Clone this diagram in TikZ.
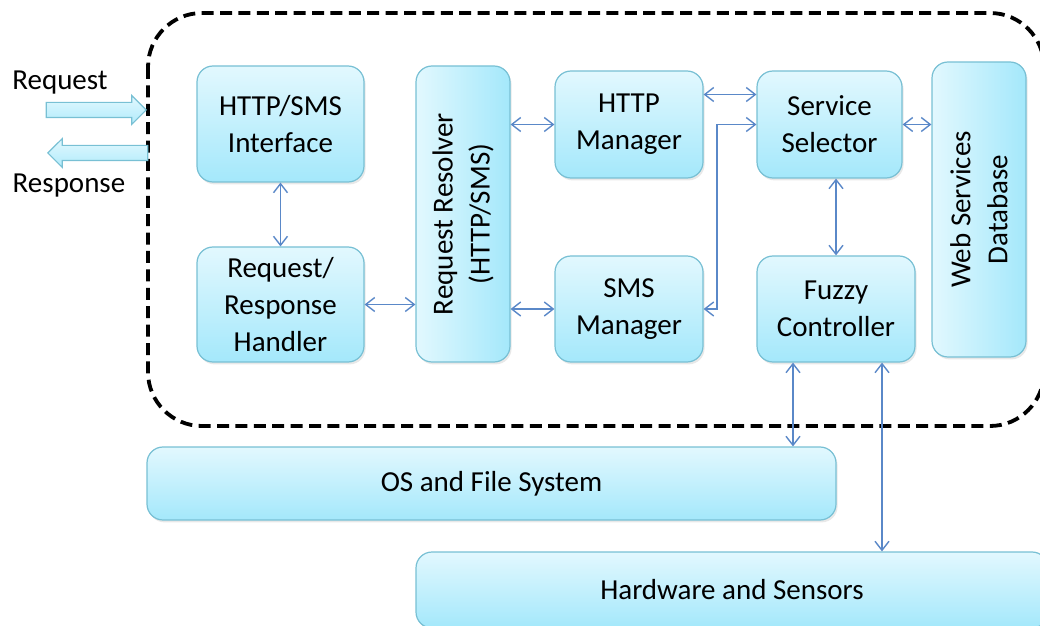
\documentclass[tikz,border=0pt]{standalone}
\usepackage{fontspec}
\setmainfont{Carlito}
\usetikzlibrary{calc}
\usetikzlibrary{shapes.arrows}
\usetikzlibrary{shadows}
\usetikzlibrary{arrows.meta}
\definecolor{boxtop}{HTML}{E2F8FE}
\definecolor{boxbot}{HTML}{A4E8FB}
\definecolor{boxline}{HTML}{78C0D4}
\definecolor{wireblue}{HTML}{5A88C8}
\tikzset{
  module/.style={
    draw=boxline, line width=0.6pt, rounded corners=8pt,
    top color=boxtop, bottom color=boxbot,
    drop shadow={opacity=0.18, shadow xshift=0.8pt, shadow yshift=-1.2pt},
    align=center, inner sep=2pt,
    font=\fontsize{14.5}{18.5}\selectfont
  },
  % upright boxes with text turned by 90 degrees
  tallmodule/.style={
    module, rotate=90, left color=boxtop, right color=boxbot
  },
  blockarrow/.style={
    single arrow, draw=boxline, line width=0.6pt,
    top color=boxtop, bottom color=boxbot!80!boxtop,
    minimum height=50pt, inner sep=3.5pt,
    single arrow head extend=3.4pt
  },
  wire/.style={
    wireblue, line width=0.7pt,
    {Straight Barb[length=4.5pt,width=7pt]}-{Straight Barb[length=4.5pt,width=7pt]}
  },
  caption/.style={font=\fontsize{14.5}{18.5}\selectfont}
}

\begin{document}
\begin{tikzpicture}[x=0.5pt,y=-0.5pt]
    \useasboundingbox (0,0) rectangle (1040,626);
    % Border of the server
    \draw[line width=1.9pt, dash pattern=on 6pt off 3.2pt, rounded corners=27pt]
      (148,13) rectangle (1044,426);
    % Request and response
    \node[blockarrow, anchor=tip] (reqarrow) at (147,110) {};
    \node[blockarrow, shape border rotate=180, anchor=tip] (resarrow) at (47,153) {};
    \node[caption] (reqlabel) at (60,83) {Request};
    \node[caption] (reslabel) at (69,186) {Response};
    % Boxes
    \node[module, minimum width=83.5pt, minimum height=58pt]
      (iface) at (280.5,124) {HTTP/SMS\\Interface};
    \node[module, minimum width=83.5pt, minimum height=57.5pt]
      (handler) at (280.5,304.5) {Request/\\Response\\Handler};
    \node[tallmodule, minimum width=148pt, minimum height=47pt]
      (resolver) at (463,214) {Request Resolver\\(HTTP/SMS)};
    \node[module, minimum width=74pt, minimum height=53.5pt]
      (http) at (629,124.5) {HTTP\\Manager};
    \node[module, minimum width=74pt, minimum height=53pt]
      (sms) at (629,309) {SMS\\Manager};
    \node[module, minimum width=72.5pt, minimum height=53.5pt]
      (selector) at (829.5,124.5) {Service\\Selector};
    \node[module, minimum width=79pt, minimum height=53pt]
      (fuzzy) at (836,309) {Fuzzy\\Controller};
    \node[tallmodule, minimum width=147.5pt, minimum height=47pt]
      (webdb) at (979,209.5) {Web Services\\Database};
    \node[module, minimum width=344.5pt, minimum height=36.5pt]
      (os) at (491.5,483.5) {OS and File System};
    \node[module, minimum width=316pt, minimum height=38pt]
      (hw) at (732,590) {Hardware and Sensors};
    % Wires (north/south of the turned boxes are their left/right sides)
    \draw[wire] (iface.south) -- (handler.north);
    \draw[wire] (handler.east) -- (handler.east -| resolver.north);
    \draw[wire] (http.west -| resolver.south) -- (http.west);
    \draw[wire] (sms.west -| resolver.south) -- (sms.west);
    \draw[wire] ([yshift=15pt]http.east) -- ([yshift=15pt]http.east -| selector.west);
    \draw[wire] (sms.east) -- ++(13.5,0) |- (selector.west);
    \draw[wire] (fuzzy.north |- selector.south) -- (fuzzy.north);
    \draw[wire] (selector.east) -- (selector.east -| webdb.north);
    \draw[wire] ([xshift=-21.5pt]fuzzy.south) -- ([xshift=-21.5pt]fuzzy.south |- os.north);
    \draw[wire] ([xshift=23pt]fuzzy.south) -- ([xshift=23pt]fuzzy.south |- hw.north);
\end{tikzpicture}
\end{document}
